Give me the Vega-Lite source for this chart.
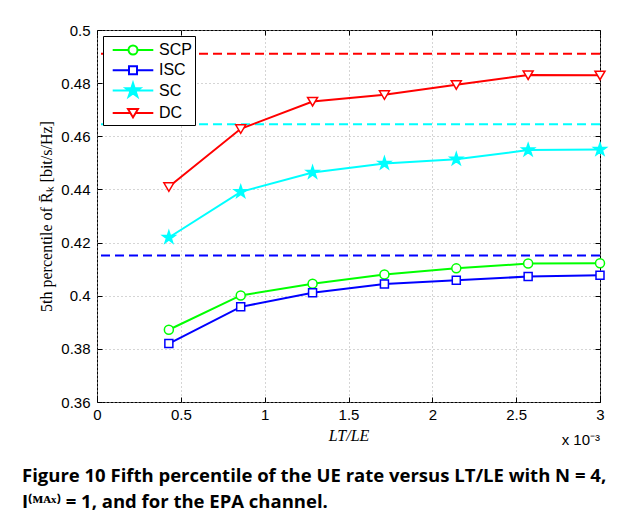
{
  "$schema": "https://vega.github.io/schema/vega-lite/v6.json",
  "width": 503,
  "height": 372,
  "autosize": {"type": "none"},
  "padding": {"left": 97, "top": 30, "right": 26, "bottom": 122},
  "background": "white",
  "datasets": {
    "curves": [
      {"series": "SCP", "x": 0.4286, "y": 0.3872},
      {"series": "SCP", "x": 0.8571, "y": 0.4001},
      {"series": "SCP", "x": 1.2857, "y": 0.4045},
      {"series": "SCP", "x": 1.7143, "y": 0.408},
      {"series": "SCP", "x": 2.1429, "y": 0.4103},
      {"series": "SCP", "x": 2.5714, "y": 0.4121},
      {"series": "SCP", "x": 3.0, "y": 0.4122},
      {"series": "ISC", "x": 0.4286, "y": 0.382},
      {"series": "ISC", "x": 0.8571, "y": 0.3958},
      {"series": "ISC", "x": 1.2857, "y": 0.4011},
      {"series": "ISC", "x": 1.7143, "y": 0.4044},
      {"series": "ISC", "x": 2.1429, "y": 0.4058},
      {"series": "ISC", "x": 2.5714, "y": 0.4072},
      {"series": "ISC", "x": 3.0, "y": 0.4077},
      {"series": "SC", "x": 0.4286, "y": 0.4219},
      {"series": "SC", "x": 0.8571, "y": 0.4391},
      {"series": "SC", "x": 1.2857, "y": 0.4464},
      {"series": "SC", "x": 1.7143, "y": 0.4498},
      {"series": "SC", "x": 2.1429, "y": 0.4514},
      {"series": "SC", "x": 2.5714, "y": 0.4548},
      {"series": "SC", "x": 3.0, "y": 0.455},
      {"series": "DC", "x": 0.4286, "y": 0.441},
      {"series": "DC", "x": 0.8571, "y": 0.4628},
      {"series": "DC", "x": 1.2857, "y": 0.4731},
      {"series": "DC", "x": 1.7143, "y": 0.4756},
      {"series": "DC", "x": 2.1429, "y": 0.4794},
      {"series": "DC", "x": 2.5714, "y": 0.4831},
      {"series": "DC", "x": 3.0, "y": 0.483}
    ],
    "bounds": [
      {"series": "ISC", "value": 0.4151},
      {"series": "SC", "value": 0.4645},
      {"series": "DC", "value": 0.4911}
    ]
  },
  "title": {
    "text": ["Figure 10 Fifth percentile of the UE rate versus LT/LE with N = 4,", "I⁽ᴹᴬˣ⁾ = 1, and for the EPA channel."],
    "orient": "bottom",
    "anchor": "start",
    "frame": "group",
    "dx": -75,
    "offset": 19,
    "font": "Open Sans",
    "fontSize": 18.5,
    "fontWeight": "bold",
    "color": "black",
    "lineHeight": 26,
    "baseline": "top"
  },
  "config": {
    "view": {"stroke": "black", "strokeWidth": 1},
    "axis": {
      "labelFont": "Liberation Sans",
      "labelFontSize": 15,
      "labelColor": "black",
      "tickColor": "black",
      "tickSize": -5,
      "domain": false,
      "labelFlush": false,
      "labelOverlap": false,
      "titleFont": "Liberation Serif",
      "titleFontWeight": "normal",
      "titleFontSize": 16,
      "titleColor": "black",
      "gridColor": "#aaaaaa",
      "gridDash": [1, 3],
      "gridWidth": 1
    }
  },
  "layer": [
    {
      "data": {"name": "bounds"},
      "mark": {"type": "rule", "strokeDash": [9, 5], "strokeWidth": 2},
      "encoding": {
        "y": {"field": "value", "type": "quantitative", "scale": {"domain": [0.36, 0.5], "nice": false, "zero": false}, "axis": null},
        "stroke": {"field": "series", "type": "nominal", "scale": {"domain": ["SCP", "ISC", "SC", "DC"], "range": ["#00ff00", "#0000ff", "#00ffff", "#ff0000"]}, "legend": null}
      }
    },
    {
      "data": {"name": "curves"},
      "mark": {"type": "line", "strokeWidth": 2},
      "encoding": {
        "x": {"field": "x", "type": "quantitative", "scale": {"domain": [0, 3], "nice": false, "zero": false},
          "axis": {"orient": "bottom", "values": [0, 0.5, 1, 1.5, 2, 2.5, 3], "format": ".1~f", "grid": true, "labelPadding": 10, "title": "LT/LE", "titleFontStyle": "italic", "titlePadding": 5}},
        "y": {"field": "y", "type": "quantitative", "scale": {"domain": [0.36, 0.5], "nice": false, "zero": false},
          "axis": {"orient": "left", "values": [0.36, 0.38, 0.4, 0.42, 0.44, 0.46, 0.48, 0.5], "format": ".2~f", "grid": true, "labelPadding": 12, "title": "5th percentile of R̄ₖ [bit/s/Hz]", "titlePadding": 6}},
        "stroke": {"field": "series", "type": "nominal", "scale": {"domain": ["SCP", "ISC", "SC", "DC"], "range": ["#00ff00", "#0000ff", "#00ffff", "#ff0000"]}, "legend": null}
      }
    },
    {
      "data": {"name": "curves"},
      "mark": {"type": "point", "size": 100, "strokeWidth": 1.5, "opacity": 1},
      "encoding": {
        "x": {"field": "x", "type": "quantitative", "axis": null},
        "y": {"field": "y", "type": "quantitative", "axis": null},
        "shape": {"field": "series", "type": "nominal", "legend": null, "scale": {"domain": ["SCP", "ISC", "SC", "DC"], "range": [
          "M0.9,0A0.9,0.9,0,1,1,-0.9,0A0.9,0.9,0,1,1,0.9,0Z",
          "M-0.8,-0.8L0.8,-0.8L0.8,0.8L-0.8,0.8Z",
          "M0,-1.3L0.292,-0.402L1.236,-0.402L0.472,0.153L0.764,1.052L0,0.497L-0.764,1.052L-0.472,0.153L-1.236,-0.402L-0.292,-0.402Z",
          "M-1,-0.8L1,-0.8L0,0.9Z"]}},
        "stroke": {"field": "series", "type": "nominal", "legend": null, "scale": {"domain": ["SCP", "ISC", "SC", "DC"], "range": ["#00ff00", "#0000ff", "#00ffff", "#ff0000"]}},
        "fill": {"field": "series", "type": "nominal", "legend": null, "scale": {"domain": ["SCP", "ISC", "SC", "DC"], "range": ["white", "white", "#00ffff", "white"]}}
      }
    },
    {
      "data": {"name": "curves"},
      "transform": [{"filter": "datum.x < 0"}],
      "mark": {"type": "point", "size": 400, "strokeWidth": 2, "opacity": 1},
      "encoding": {
        "x": {"field": "x", "type": "quantitative", "axis": {"orient": "top", "values": [0, 0.5, 1, 1.5, 2, 2.5, 3], "labels": false, "grid": false, "title": null}},
        "y": {"field": "y", "type": "quantitative", "axis": {"orient": "right", "values": [0.36, 0.38, 0.4, 0.42, 0.44, 0.46, 0.48, 0.5], "labels": false, "grid": false, "title": null}},
        "shape": {"field": "series", "type": "nominal",
          "scale": {"domain": ["SCP", "ISC", "SC", "DC"], "range": [
            "M-0.43,0L1.15,0M2.05,0L3.63,0M2.05,0A0.45,0.45,0,1,1,1.15,0A0.45,0.45,0,1,1,2.05,0Z",
            "M-0.43,0L1.2,0M2,0L3.63,0M1.2,-0.4L2,-0.4L2,0.4L1.2,0.4Z",
            "M-0.43,0L3.63,0M1.6,-0.75L1.768,-0.232L2.313,-0.232L1.872,0.089L2.041,0.607L1.6,0.287L1.159,0.607L1.328,0.089L0.887,-0.232L1.432,-0.232Z",
            "M-0.43,0L1.335,0M1.865,0L3.63,0M1.1,-0.4L2.1,-0.4L1.6,0.45Z"]},
          "legend": {"title": null, "orient": "top-left", "offset": 6, "padding": 3, "strokeColor": "black", "fillColor": "white", "labelFont": "Liberation Sans", "labelFontSize": 16, "labelColor": "black", "labelOffset": 31, "rowPadding": 0.3, "symbolStrokeWidth": 2, "symbolSize": 400, "cornerRadius": 0}},
        "stroke": {"field": "series", "type": "nominal", "scale": {"domain": ["SCP", "ISC", "SC", "DC"], "range": ["#00ff00", "#0000ff", "#00ffff", "#ff0000"]},
          "legend": {"title": null, "orient": "top-left", "offset": 6, "padding": 3, "strokeColor": "black", "fillColor": "white", "labelFont": "Liberation Sans", "labelFontSize": 16, "labelColor": "black", "labelOffset": 31, "rowPadding": 0.3, "symbolStrokeWidth": 2, "symbolSize": 400, "cornerRadius": 0}},
        "fill": {"field": "series", "type": "nominal", "scale": {"domain": ["SCP", "ISC", "SC", "DC"], "range": ["white", "white", "#00ffff", "white"]},
          "legend": {"title": null, "orient": "top-left", "offset": 6, "padding": 3, "strokeColor": "black", "fillColor": "white", "labelFont": "Liberation Sans", "labelFontSize": 16, "labelColor": "black", "labelOffset": 31, "rowPadding": 0.3, "symbolStrokeWidth": 2, "symbolSize": 400, "cornerRadius": 0}}
      }
    },
    {
      "data": {"values": [{"note": "x 10⁻³"}]},
      "mark": {"type": "text", "font": "Liberation Sans", "fontSize": 15, "align": "right", "baseline": "top", "dy": 31, "fill": "black"},
      "encoding": {
        "text": {"field": "note", "type": "nominal"},
        "x": {"datum": 3, "type": "quantitative", "axis": null},
        "y": {"datum": 0.36, "type": "quantitative", "axis": null}
      }
    }
  ],
  "resolve": {
    "scale": {"stroke": "independent", "fill": "independent", "shape": "independent"},
    "axis": {"x": "independent", "y": "independent"}
  }
}
